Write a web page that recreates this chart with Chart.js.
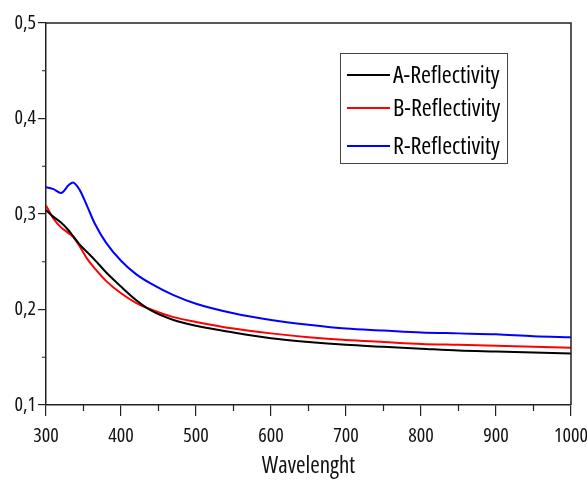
<!DOCTYPE html>
<html>
<head>
<meta charset="utf-8">
<script src="https://cdn.jsdelivr.net/npm/chart.js@4.4.1/dist/chart.umd.min.js"></script>
<style>
  html, body { margin: 0; padding: 0; background: #fff; }
  #wrap { width: 587px; height: 484px; }
</style>
</head>
<body>
<div id="wrap"><canvas id="reflChart"></canvas></div>
<script>
// Reflectivity spectra
const wavelengths = [300, 310, 320, 330, 336, 345, 355, 365, 380, 400, 420, 440, 470, 500, 550, 600, 650, 700, 750, 800, 850, 900, 950, 1000];
const reflA = [0.304, 0.297, 0.291, 0.283, 0.277, 0.268, 0.260, 0.252, 0.239, 0.224, 0.210, 0.199, 0.189, 0.183, 0.176, 0.170, 0.166, 0.163, 0.161, 0.159, 0.157, 0.156, 0.155, 0.154];
const reflB = [0.309, 0.295, 0.286, 0.280, 0.276, 0.266, 0.253, 0.243, 0.230, 0.217, 0.207, 0.200, 0.192, 0.187, 0.180, 0.175, 0.171, 0.168, 0.166, 0.164, 0.163, 0.162, 0.161, 0.160];
const reflR = [0.328, 0.326, 0.322, 0.330, 0.333, 0.325, 0.308, 0.290, 0.270, 0.251, 0.237, 0.227, 0.215, 0.206, 0.196, 0.189, 0.184, 0.180, 0.178, 0.176, 0.175, 0.174, 0.172, 0.171];
const seriesNames = ['A-Reflectivity', 'B-Reflectivity', 'R-Reflectivity'];
const seriesColors = ['#000000', '#ff0000', '#0000ff'];
const xTicks = [300, 400, 500, 600, 700, 800, 900, 1000];
const yTicks = [0.1, 0.2, 0.3, 0.4, 0.5];

// narrow lettering: 'condensed' rides in the weight slot of the font string
const FAMILY = "'Open Sans', 'Roboto Condensed', sans-serif";
const STRETCH = 'condensed';

function toPoints(ys) {
  return wavelengths.map((x, i) => ({ x: x, y: ys[i] }));
}

// top/right frame, minor ticks and the boxed legend
const framePlugin = {
  id: 'frame',
  afterDraw(chart) {
    const { ctx, chartArea: a, scales } = chart;
    ctx.save();
    ctx.strokeStyle = '#222';
    ctx.lineWidth = 1.5;
    ctx.beginPath();
    ctx.moveTo(a.left, a.top);
    ctx.lineTo(a.right, a.top);
    ctx.lineTo(a.right, a.bottom);
    ctx.stroke();

    // minor ticks halfway between labelled ones
    ctx.lineWidth = 1.2;
    ctx.beginPath();
    for (let v = 350; v < 1000; v += 100) {
      const px = scales.x.getPixelForValue(v);
      ctx.moveTo(px, a.bottom);
      ctx.lineTo(px, a.bottom + 6);
    }
    for (let v = 0.15; v < 0.5; v += 0.1) {
      const py = scales.y.getPixelForValue(v);
      ctx.moveTo(a.left, py);
      ctx.lineTo(a.left - 4, py);
    }
    ctx.stroke();

    // legend box
    const bx = 340, by = 53, bw = 167, bh = 110;
    ctx.strokeStyle = '#444';
    ctx.lineWidth = 1;
    ctx.strokeRect(bx + 0.5, by + 0.5, bw, bh);
    ctx.font = STRETCH + ' 24px ' + FAMILY;
    ctx.textBaseline = 'middle';
    ctx.fillStyle = '#000';
    const rowY = [75, 108, 146];
    chart.data.datasets.forEach((ds, i) => {
      ctx.strokeStyle = ds.borderColor;
      ctx.lineWidth = 2;
      ctx.beginPath();
      ctx.moveTo(347, rowY[i]);
      ctx.lineTo(390, rowY[i]);
      ctx.stroke();
      ctx.fillText(ds.label, 393, rowY[i] + 1);
    });
    ctx.restore();
  }
};

const ctx = document.getElementById('reflChart').getContext('2d');
const chart = new Chart(ctx, {
  type: 'line',
  data: {
    datasets: [reflA, reflB, reflR].map((ys, i) => ({
      label: seriesNames[i],
      data: toPoints(ys),
      borderColor: seriesColors[i],
      borderWidth: 2,
      pointRadius: 0,
      cubicInterpolationMode: 'monotone',
      fill: false
    }))
  },
  options: {
    responsive: true,
    maintainAspectRatio: false,
    animation: false,
    layout: { padding: { top: 23, right: 0, left: 0, bottom: 0 } },
    plugins: {
      legend: { display: false },
      tooltip: { enabled: false }
    },
    scales: {
      x: {
        type: 'linear',
        min: 300,
        max: 1000,
        afterBuildTicks: s => { s.ticks = xTicks.map(v => ({ value: v })); },
        afterFit: s => { s.height = 79; s.paddingLeft = 0; s.paddingRight = 16; },
        border: { color: '#222', width: 1.5 },
        grid: { drawOnChartArea: false, tickLength: 11, color: '#222', lineWidth: 1.2 },
        ticks: {
          color: '#111',
          padding: 8,
          maxRotation: 0,
          font: { family: FAMILY, weight: STRETCH, size: 20 },
          callback: v => String(v)
        },
        title: { display: true, text: 'Wavelenght', color: '#111', padding: { top: 0 }, font: { family: FAMILY, weight: STRETCH, size: 23 } }
      },
      y: {
        min: 0.1,
        max: 0.5,
        afterBuildTicks: s => { s.ticks = yTicks.map(v => ({ value: v })); },
        afterFit: s => { s.width = 46; },
        border: { color: '#222', width: 1.5 },
        grid: { drawOnChartArea: false, tickLength: 8, color: '#222', lineWidth: 1.2 },
        ticks: {
          color: '#111',
          padding: 2,
          font: { family: FAMILY, weight: STRETCH, size: 20 },
          callback: v => v.toFixed(1).replace('.', ',')
        }
      }
    }
  },
  plugins: [framePlugin]
});
</script>
</body>
</html>
